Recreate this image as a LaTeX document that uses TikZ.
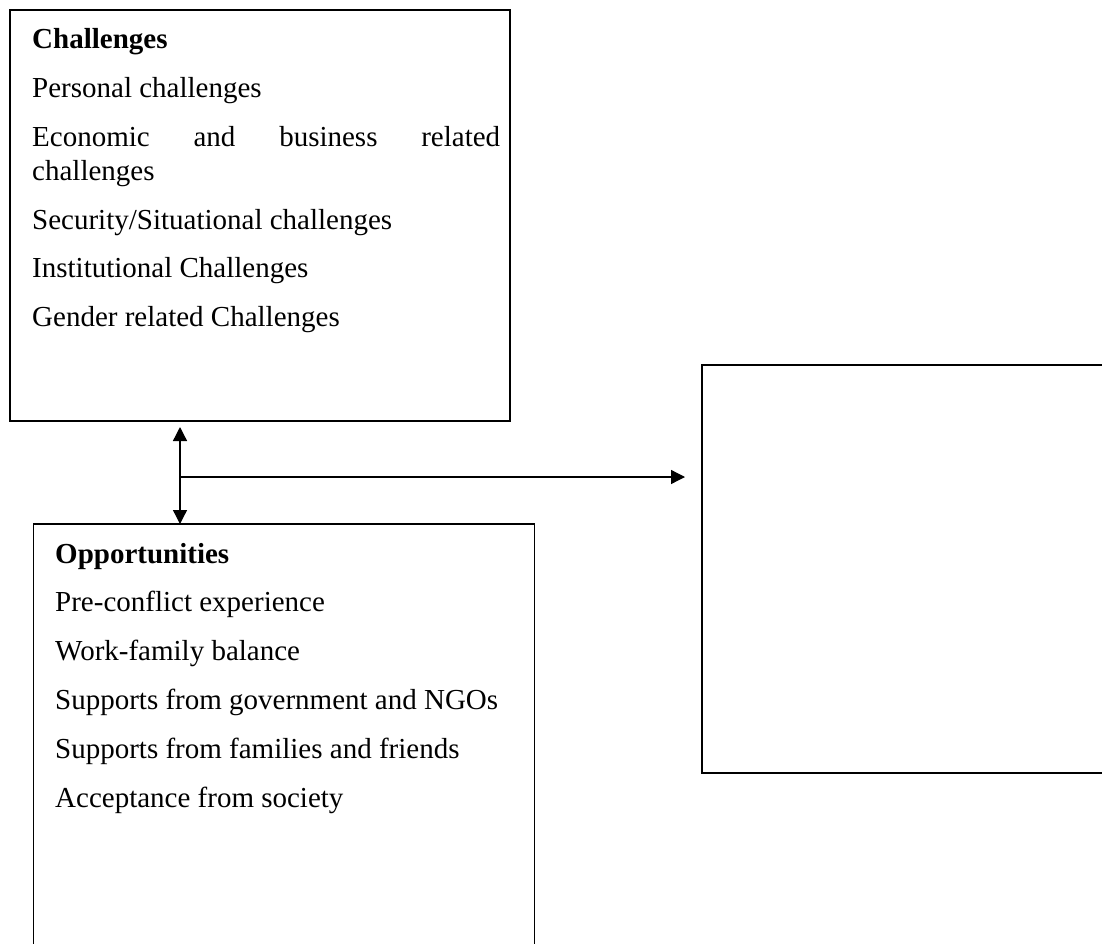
\documentclass[tikz,border=0pt]{standalone}
\usepackage{fontspec}
\setmainfont{Liberation Serif}
\usetikzlibrary{arrows.meta,positioning,calc}

\begin{document}
\begin{tikzpicture}[x=1pt,y=-1pt,
  frame/.style={draw=black,line width=1.6pt,inner sep=0pt,outer sep=0pt},
  % one paragraph per item, Word-like spacing after each
  listtext/.style={anchor=base west,inner sep=0pt,text width=#1,align=justify,
    font=\fontsize{29}{33.4}\selectfont,
    execute at begin node={\setlength{\parskip}{15.5pt}%
      \hyphenpenalty=10000\exhyphenpenalty=10000\tolerance=10000}},
  link/.style={-{Triangle[length=14pt,width=14pt]},line width=1.3pt,draw=black},
  duallink/.style={{Triangle[length=14pt,width=14pt]}-{Triangle[length=14pt,width=14pt]},
    line width=1.3pt,draw=black}
]
  \useasboundingbox (0,0) rectangle (1102,944);
  \clip (0,0) rectangle (1102,944);

  \node[frame,minimum width=500pt,minimum height=411pt,anchor=north west] (challenges) at (10,10) {};
  \node[frame,minimum width=501pt,minimum height=440pt,anchor=north west] (opps) at (33.5,524) {};
  \node[frame,minimum width=420pt,minimum height=408pt,anchor=north west] (result) at (702,365) {};

  \node[listtext=468pt] (chtext) at (32,49) {\textbf{Challenges}\par
    Personal challenges\par
    Economic and business related challenges\par
    Security/Situational challenges\par
    Institutional Challenges\par
    Gender related Challenges};
  \node[listtext=475pt] (optext) at (55,563) {\textbf{Opportunities}\par
    Pre-conflict experience\par
    Work-family balance\par
    Supports from government and NGOs\par
    Supports from families and friends\par
    Acceptance from society};

  \coordinate (split) at (180,477);
  \draw[duallink,shorten <=6pt] (split |- challenges.south) -- (split |- opps.north);
  \draw[link,shorten >=17pt] (split) -- (split -| result.west);
\end{tikzpicture}
\end{document}
